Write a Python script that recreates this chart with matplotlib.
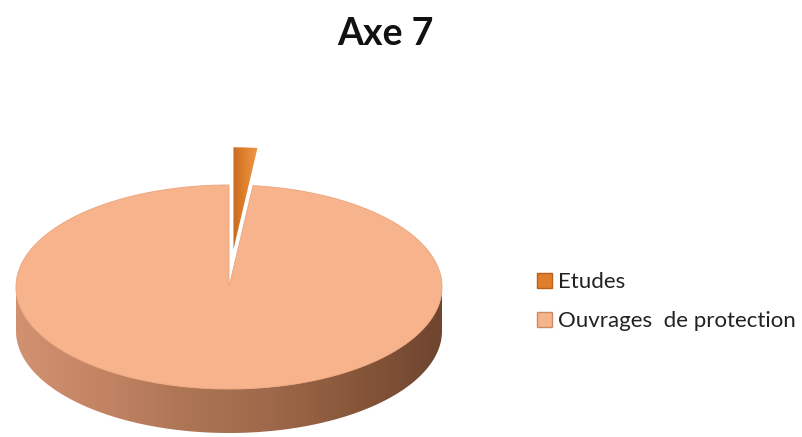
import numpy as np
import matplotlib.pyplot as plt
from matplotlib.patches import Polygon, Rectangle
from matplotlib.colors import LinearSegmentedColormap

# Chart data
title = "Axe 7"
categories = ["Etudes", "Ouvrages  de protection"]
values = [1.8, 98.2]

# Styling
top_colors = ["#E07E2E", "#F7B48C"]
legend_edges = ["#B8601C", "#C98A68"]
side_stops = ["#D29272", "#C38464", "#AD7554", "#9E684A", "#875639", "#6F4530"]
slice_stops = ["#C96A22", "#E2822F", "#EE9A4C"]

W, H = 803, 437
fig = plt.figure(figsize=(W / 100, H / 100), dpi=100)
ax = fig.add_axes([0, 0, 1, 1])

# pie geometry (screen pixels, y downward)
cx, cy, rx, ry, depth = 229, 287, 213, 102, 44
explode = [0.37, 0.0]

fr = np.array(values, dtype=float) / np.sum(values)
bounds = np.concatenate([[0.0], np.cumsum(fr)]) * 2 * np.pi
mids = 0.5 * (bounds[:-1] + bounds[1:])


def arc(t0, t1, ox=0.0, oy=0.0, dz=0.0, n=200):
    t = np.linspace(t0, t1, n)
    return np.column_stack([cx + ox + rx * np.sin(t), cy + oy - ry * np.cos(t) + dz])


def gradient_fill(poly, stops, x0, x1, y0, y1, z):
    cmap = LinearSegmentedColormap.from_list("g", stops)
    grad = np.linspace(0, 1, 256)[None, :]
    im = ax.imshow(grad, cmap=cmap, extent=[x0, x1, y1, y0], origin="upper",
                   aspect="auto", interpolation="bilinear", zorder=z)
    im.set_clip_path(poly)


for i, (t0, t1) in enumerate(zip(bounds[:-1], bounds[1:])):
    e = explode[i]
    ox = e * rx * np.sin(mids[i])
    oy = -e * ry * np.cos(mids[i])
    top = np.vstack([[cx + ox, cy + oy], arc(t0, t1, ox, oy)])

    # visible front wall: portion of the slice between 3 and 9 o'clock
    a0, a1 = max(t0, np.pi / 2), min(t1, 3 * np.pi / 2)
    if a1 > a0:
        wall = np.vstack([arc(a0, a1, ox, oy), arc(a0, a1, ox, oy, depth)[::-1]])
        wall_patch = Polygon(wall, closed=True, facecolor="none", edgecolor="none", zorder=1)
        ax.add_patch(wall_patch)
        gradient_fill(wall_patch, side_stops, cx - rx, cx + rx, cy, cy + ry + depth, 1)

    if i == 0:
        p = Polygon(top, closed=True, facecolor="none", edgecolor="none", zorder=2)
        ax.add_patch(p)
        xs = top[:, 0]
        gradient_fill(p, slice_stops, xs.min(), xs.max(), top[:, 1].min(), top[:, 1].max(), 2)
    else:
        ax.add_patch(Polygon(top, closed=True, facecolor=top_colors[i],
                             edgecolor="#EDA880", linewidth=0.7, zorder=3))

ax.set_xlim(0, W)
ax.set_ylim(H, 0)
ax.axis("off")

# title
ax.text(385, 45, title, ha="center", va="baseline", fontsize=27,
        fontweight="bold", family="Lato", color="#111111")

# legend
leg_x, leg_y0, leg_dy = 537, 288, 39
for i, name in enumerate(categories):
    yb = leg_y0 + i * leg_dy
    ax.add_patch(Rectangle((leg_x, yb - 15), 15, 15, facecolor=top_colors[i],
                           edgecolor=legend_edges[i], linewidth=1.0, zorder=4))
    ax.text(leg_x + 21, yb, name, ha="left", va="baseline", fontsize=16,
            family="Lato", color="#222222")

fig.savefig("out.png", dpi=100)
